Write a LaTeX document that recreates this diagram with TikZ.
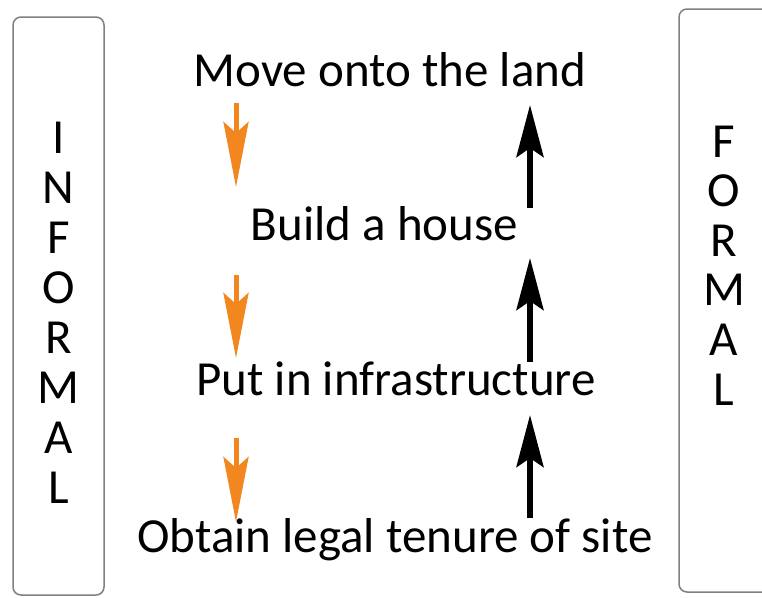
\documentclass[tikz,border=0pt]{standalone}
\usepackage{fontspec}
\setmainfont{Carlito}
\usetikzlibrary{arrows.meta}
\definecolor{arrorange}{RGB}{242,135,32}
\definecolor{boxgray}{RGB}{128,128,128}
\begin{document}
\begin{tikzpicture}[x=1pt,y=-1pt,
  lbl/.style={inner sep=0pt, anchor=base, font=\fontsize{49}{58}\selectfont},
  sidebox/.style={draw=boxgray, line width=1.5pt, rounded corners=8pt, inner sep=0pt},
  informarrow/.style={arrorange, line width=5pt, -{Stealth[length=65pt,width=25pt,inset=11pt]}},
  formarrow/.style={black, line width=6pt, -{Stealth[length=52pt,width=27pt,inset=9pt]}}]
\clip (0,0) rectangle (762,597);
\fill[white] (0,0) rectangle (762,597);
% side boxes
\node[sidebox, minimum width=91pt, minimum height=578pt] (lbox) at (58.5,306) {};
\node[sidebox, minimum width=121pt, minimum height=583pt] (rbox) at (739.5,300.5) {};
% side letters
\foreach \ch [count=\k from 0] in {I,N,F,O,R,M,A,L}
  \node[lbl] (inf\k) at (58.5,153+50*\k) {\ch};
\foreach \ch [count=\k from 0] in {F,O,R,M,A,L}
  \node[lbl] (for\k) at (724,157+49.6*\k) {\ch};
% steps
\node[lbl] (t1) at (390,86) {Move onto the land};
\node[lbl] (t2) at (384.5,240) {Build a house};
\node[lbl] (t3) at (396,395) {Put in infrastructure};
\node[lbl] (t4) at (395,552) {Obtain legal tenure of site};
% orange (informal) arrows
\coordinate (o1s) at (236,103); \coordinate (o1e) at (236,187);
\coordinate (o2s) at (236,275); \coordinate (o2e) at (236,358);
\coordinate (o3s) at (236,438); \coordinate (o3e) at (236,522);
\draw[informarrow] (o1s) -- (o1e);
\draw[informarrow] (o2s) -- (o2e);
\draw[informarrow] (o3s) -- (o3e);
% black (formal) arrows
\coordinate (b1s) at (530,208); \coordinate (b1e) at (530,105);
\coordinate (b2s) at (530,362); \coordinate (b2e) at (530,258);
\coordinate (b3s) at (530,518); \coordinate (b3e) at (530,415);
\draw[formarrow] (b1s) -- (b1e);
\draw[formarrow] (b2s) -- (b2e);
\draw[formarrow] (b3s) -- (b3e);
\end{tikzpicture}
\end{document}
